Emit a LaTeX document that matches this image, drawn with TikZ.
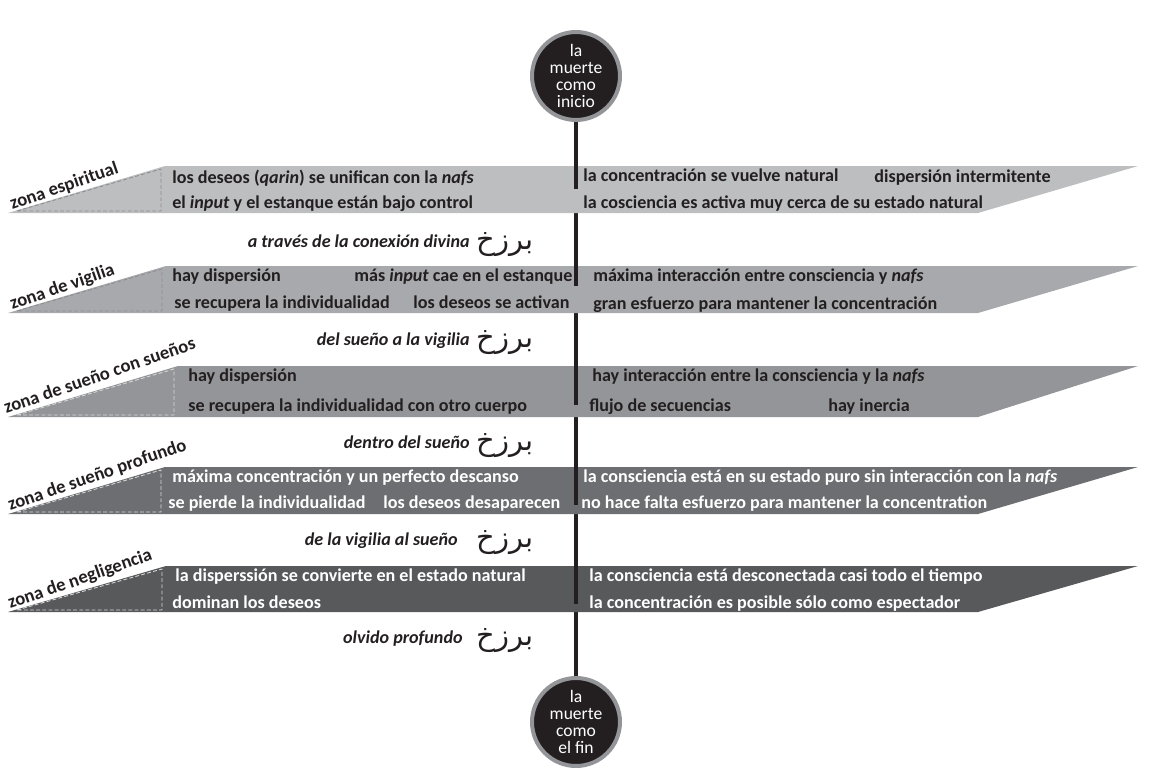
\documentclass[tikz,border=0pt]{standalone}
\usepackage{fontspec}
\setmainfont{Carlito}
\newfontfamily\arabicfont[Script=Arabic]{DejaVu Sans}
\TeXXeTstate=1
\definecolor{ink}{HTML}{231F20}
\definecolor{ring}{HTML}{939598}
\definecolor{bandA}{HTML}{BCBEC0}
\definecolor{bandB}{HTML}{A7A9AC}
\definecolor{bandC}{HTML}{939598}
\definecolor{bandD}{HTML}{6D6E71}
\definecolor{bandE}{HTML}{58595B}
\definecolor{dashdark}{HTML}{8C8D90}
\definecolor{dashlight}{HTML}{D6D7D8}
\tikzset{
	txt/.style={anchor=base west, inner sep=0pt, font=\fontsize{10.3}{12}\selectfont\bfseries, text=ink},
	wtxt/.style={txt, text=white},
	zone/.style={txt, rotate=19, font=\fontsize{10.6}{12}\selectfont\bfseries},
	via/.style={anchor=base east, inner sep=0pt, font=\fontsize{10.3}{12}\selectfont\bfseries\itshape, text=ink},
	barzakh/.style={anchor=base west, inner sep=0pt, font=\fontsize{16.5}{18}\selectfont\arabicfont, text=ink},
	death/.style={circle, fill=ink, draw=ring, line width=0.08cm, minimum size=1.76cm, inner sep=0pt, align=center, text=white, font=\fontsize{10}{9.7}\selectfont},
}
\begin{document}
\begin{tikzpicture}[x=0.02cm, y=-0.02cm, line join=round]
	\useasboundingbox (0,0) rectangle (1153,777);
	\node[death] (start) at (576,76) {la\\muerte\\como\\inicio};
	\node[death] (end) at (576,722) {la\\muerte\\como\\el fin};
	\draw[ink, line width=0.08cm] (start) -- (end);
	% --- bands
	\foreach \t/\b/\l/\c/\d in {166/213/165/bandA/dashdark, 266/313/166/bandB/dashdark, 366/417/178/bandC/dashlight, 467/514/165/bandD/dashlight, 566/612/166/bandE/dashlight}{
		\fill[\c] (8,\b) -- (\l,\t) -- (1138,\t) -- (978,\b) -- cycle;
		\draw[\d, dash pattern=on 2.2pt off 1.3pt, line width=0.5pt] (17,\b-2) -- (\l-4,\t+3) -- (\l-4,\b-2) -- cycle;
	}
	\foreach \t/\e in {166/189, 266/286, 366/405, 467/505, 566/604}
		\draw[ink, line width=0.08cm] (576,\t) -- (576,\e);
	% --- zones
	\node[zone] (z1) at (12,210) {zona espiritual};
	\node[zone] (z2) at (12,310) {zona de vigilia};
	\node[zone] (z3) at (6,414) {zona de sueño con sueños};
	\node[zone] (z4) at (10,511) {zona de sueño profundo};
	\node[zone] (z5) at (10,609) {zona de negligencia};
	% --- zona espiritual
	\node[txt] (s1a) at (172,183) {los deseos (\textit{qarin}) se unifican con la \textit{nafs}};
	\node[txt] (s1b) at (172,208) {el \textit{input} y el estanque están bajo control};
	\node[txt] (s1c) at (583,181) {la concentración se vuelve natural};
	\node[txt] (s1d) at (874,182) {dispersión intermitente};
	\node[txt] (s1e) at (583,208) {la cosciencia es activa muy cerca de su estado natural};
	% --- zona de vigilia
	\node[txt] (s2a) at (172,281) {hay dispersión};
	\node[txt] (s2b) at (354,281) {más \textit{input} cae en el estanque};
	\node[txt] (s2c) at (174,308) {se recupera la individualidad};
	\node[txt] (s2d) at (413,308) {los deseos se activan};
	\node[txt] (s2e) at (593,281) {máxima interacción entre consciencia y \textit{nafs}};
	\node[txt] (s2f) at (593,309) {gran esfuerzo para mantener la concentración};
	% --- zona de sueño con sueños
	\node[txt] (s3a) at (188,381) {hay dispersión};
	\node[txt] (s3b) at (188,411) {se recupera la individualidad con otro cuerpo};
	\node[txt] (s3c) at (592,381) {hay interacción entre la consciencia y la \textit{nafs}};
	\node[txt] (s3d) at (589,411) {flujo de secuencias};
	\node[txt] (s3e) at (828,411) {hay inercia};
	% --- zona de sueño profundo
	\node[wtxt] (s4a) at (172,482) {máxima concentración y un perfecto descanso};
	\node[wtxt] (s4b) at (168,508) {se pierde la individualidad};
	\node[wtxt] (s4c) at (383,508) {los deseos desaparecen};
	\node[wtxt] (s4d) at (583,482) {la consciencia está en su estado puro sin interacción con la \textit{nafs}};
	\node[wtxt] (s4e) at (581,508) {no hace falta esfuerzo para mantener la concentration};
	% --- zona de negligencia
	\node[wtxt] (s5a) at (175,581) {la disperssión se convierte en el estado natural};
	\node[wtxt] (s5b) at (172,608) {dominan los deseos};
	\node[wtxt] (s5c) at (589,581) {la consciencia está desconectada casi todo el tiempo};
	\node[wtxt] (s5d) at (589,608) {la concentración es posible sólo como espectador};
	% --- barzakh
	\node[via] (v1) at (470,247) {a través de la conexión divina};
	\node[via] (v2) at (470,345) {del sueño a la vigilia};
	\node[via] (v3) at (470,448) {dentro del sueño};
	\node[via] (v4) at (458,545) {de la vigilia al sueño};
	\node[via] (v5) at (463,643) {olvido profundo};
	\foreach \y [count=\i] in {249,347,450,547,645}
		\node[barzakh] (b\i) at (476,\y) {\beginR برزخ\endR};
\end{tikzpicture}
\end{document}
